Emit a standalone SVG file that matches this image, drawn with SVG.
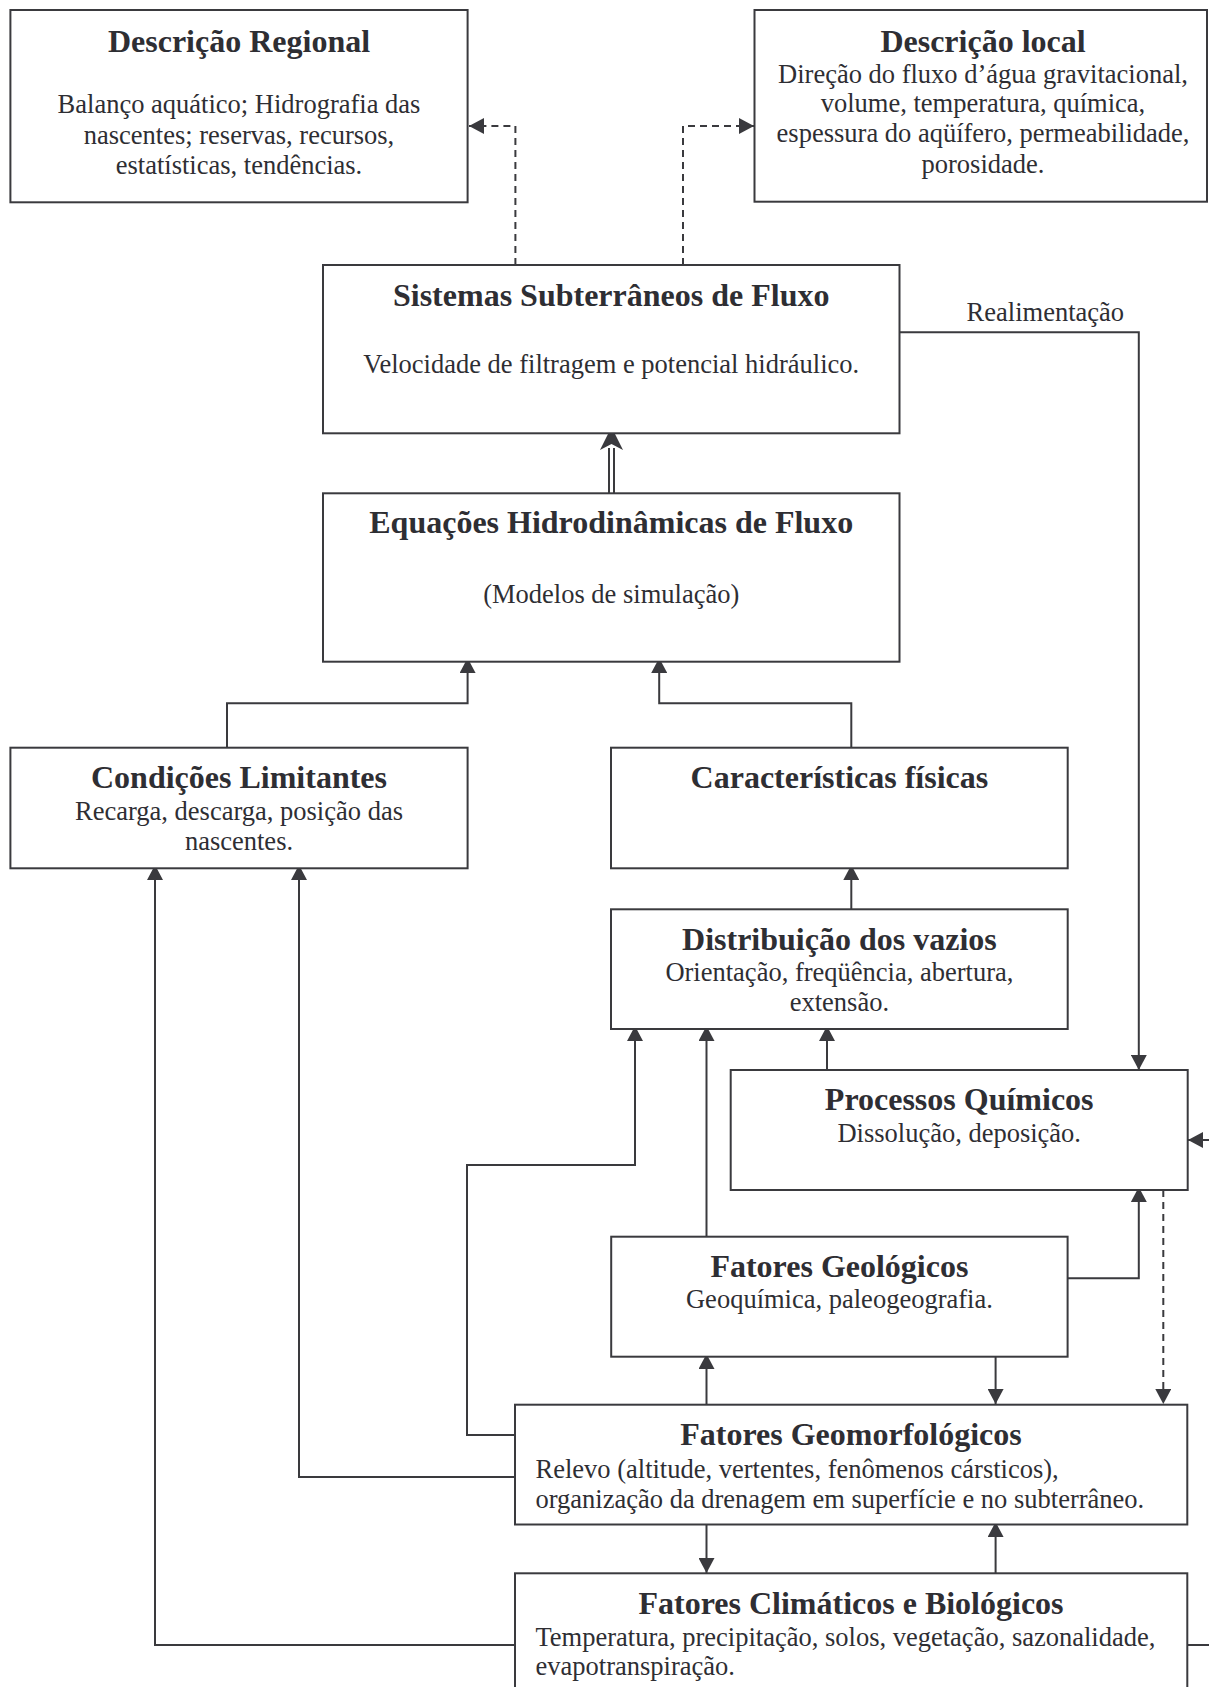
<svg xmlns="http://www.w3.org/2000/svg" width="1209" height="1687" viewBox="0 0 1209 1687">
<style>
.box{fill:#fff;stroke:#3a3a3e;stroke-width:2}
.t{font-family:"Liberation Serif","Times New Roman",serif;font-weight:bold;font-size:32px;fill:#2e2e33;text-anchor:middle}
.b{font-family:"Liberation Serif","Times New Roman",serif;font-size:26.5px;fill:#2e2e33;text-anchor:middle}
.bl{font-family:"Liberation Serif","Times New Roman",serif;font-size:26.5px;fill:#2e2e33}
.c{fill:none;stroke:#3a3a3e;stroke-width:2}
.a{marker-end:url(#arr)}
.d{stroke-dasharray:7 5}
</style>
<defs>
<marker id="arr" markerUnits="userSpaceOnUse" markerWidth="16" markerHeight="16" refX="15" refY="8" orient="auto">
<path d="M0,0 L15,8 L0,16 z" fill="#3a3a3e"/>
</marker>
</defs>
<rect width="1209" height="1687" fill="#fff"/>

<g id="connectors">
<path class="c d a" d="M515.4,265 V126 H469"/>
<path class="c d a" d="M683,265 V126 H754"/>
<path class="c" d="M609,493.3 V448 M614,493.3 V448"/>
<path d="M611.5,427 L623,450 L611.5,444 L600,450 z" fill="#3a3a3e"/>
<path class="c a" d="M227,747.7 V703.3 H467.6 V658"/>
<path class="c a" d="M851.3,747.7 V703.3 H659.2 V658"/>
<path class="c a" d="M851.3,909.3 V865"/>
<path class="c a" d="M899.5,332.3 H1138.8 V1070"/>
<path class="c a" d="M827,1070 V1026"/>
<path class="c a" d="M706.5,1236.7 V1026"/>
<path class="c a" d="M515,1435 H467 V1165 H635 V1026"/>
<path class="c a" d="M515,1477 H299 V865"/>
<path class="c a" d="M515,1645 H155 V865"/>
<path class="c a" d="M1067.6,1278.3 H1138.8 V1187"/>
<path class="c d a" d="M1163.3,1190 V1404"/>
<path class="c a" d="M995.6,1356.7 V1404"/>
<path class="c a" d="M706.5,1404.7 V1354"/>
<path class="c a" d="M706.5,1524.5 V1573"/>
<path class="c a" d="M995.6,1573.3 V1522"/>
<path class="c a" d="M1210,1140 H1188"/>
<path class="c" d="M1187.3,1645 H1210"/>
<text class="bl" x="966.6" y="320.7">Realimentação</text>
</g>

<g id="descricao-regional">
<rect class="box" x="10.4" y="10" width="457.2" height="192.3"/>
<text class="t" x="239" y="51.7">Descrição Regional</text>
<text class="b" x="239" y="113.3">Balanço aquático; Hidrografia das</text>
<text class="b" x="239" y="144">nascentes; reservas, recursos,</text>
<text class="b" x="239" y="174">estatísticas, tendências.</text>
</g>

<g id="descricao-local">
<rect class="box" x="754.5" y="10" width="452.5" height="191.7"/>
<text class="t" x="983" y="51.7">Descrição local</text>
<text class="b" x="983" y="82.7">Direção do fluxo d’água gravitacional,</text>
<text class="b" x="983" y="111.7">volume, temperatura, química,</text>
<text class="b" x="983" y="141.7">espessura do aqüífero, permeabilidade,</text>
<text class="b" x="983" y="172.7">porosidade.</text>
</g>

<g id="sistemas-subterraneos">
<rect class="box" x="323" y="265" width="576.5" height="168.3"/>
<text class="t" x="611.2" y="306">Sistemas Subterrâneos de Fluxo</text>
<text class="b" x="611.2" y="373.3">Velocidade de filtragem e potencial hidráulico.</text>
</g>

<g id="equacoes-hidrodinamicas">
<rect class="box" x="323" y="493.3" width="576.5" height="168.4"/>
<text class="t" x="611.2" y="533.3">Equações Hidrodinâmicas de Fluxo</text>
<text class="b" x="611.2" y="603.3">(Modelos de simulação)</text>
</g>

<g id="condicoes-limitantes">
<rect class="box" x="10.4" y="747.7" width="457.2" height="120.6"/>
<text class="t" x="239" y="788.3">Condições Limitantes</text>
<text class="b" x="239" y="820">Recarga, descarga, posição das</text>
<text class="b" x="239" y="850">nascentes.</text>
</g>

<g id="caracteristicas-fisicas">
<rect class="box" x="611" y="747.7" width="456.7" height="120.6"/>
<text class="t" x="839.4" y="788.3">Características físicas</text>
</g>

<g id="distribuicao-vazios">
<rect class="box" x="611" y="909.3" width="456.7" height="119.7"/>
<text class="t" x="839.4" y="950">Distribuição dos vazios</text>
<text class="b" x="839.4" y="981">Orientação, freqüência, abertura,</text>
<text class="b" x="839.4" y="1011">extensão.</text>
</g>

<g id="processos-quimicos">
<rect class="box" x="730.7" y="1070" width="457" height="120"/>
<text class="t" x="959.2" y="1110">Processos Químicos</text>
<text class="b" x="959.2" y="1141.7">Dissolução, deposição.</text>
</g>

<g id="fatores-geologicos">
<rect class="box" x="611.2" y="1236.7" width="456.4" height="120"/>
<text class="t" x="839.4" y="1277.3">Fatores Geológicos</text>
<text class="b" x="839.4" y="1308.3">Geoquímica, paleogeografia.</text>
</g>

<g id="fatores-geomorfologicos">
<rect class="box" x="515" y="1404.7" width="672.3" height="119.8"/>
<text class="t" x="851" y="1444.8">Fatores Geomorfológicos</text>
<text class="bl" x="535.5" y="1477.5">Relevo (altitude, vertentes, fenômenos cársticos),</text>
<text class="bl" x="535.5" y="1508">organização da drenagem em superfície e no subterrâneo.</text>
</g>

<g id="fatores-climaticos-biologicos">
<rect class="box" x="515" y="1573.3" width="672.3" height="130"/>
<text class="t" x="851" y="1613.5">Fatores Climáticos e Biológicos</text>
<text class="bl" x="535.5" y="1645.5">Temperatura, precipitação, solos, vegetação, sazonalidade,</text>
<text class="bl" x="535.5" y="1674.5">evapotranspiração.</text>
</g>
</svg>
